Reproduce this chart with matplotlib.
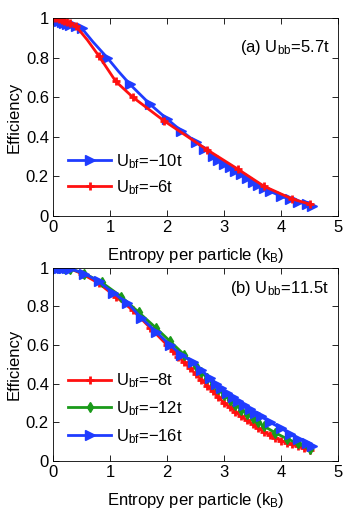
import numpy as np
import matplotlib
matplotlib.use("Agg")
import matplotlib.pyplot as plt

plt.rcParams['font.family'] = ['Liberation Sans', 'DejaVu Sans']
plt.rcParams['mathtext.fontset'] = 'custom'
plt.rcParams['mathtext.rm'] = 'Liberation Sans'
plt.rcParams['mathtext.it'] = 'Liberation Sans'

# panel (a), U_bb = 5.7t
a_blue_x = [0.05, 0.1, 0.15, 0.2, 0.25, 0.3, 0.4, 0.5, 0.7, 0.95, 1.15, 1.35, 1.7, 2.0, 2.25, 2.5, 2.65,
            2.8, 2.9, 3.0, 3.1, 3.2, 3.3, 3.4, 3.5, 3.6, 3.7, 3.8, 4.0, 4.15, 4.3, 4.45, 4.55]
a_blue_y = [0.99, 0.985, 0.98, 0.975, 0.97, 0.965, 0.96, 0.95, 0.88, 0.80, 0.73, 0.665, 0.565, 0.49, 0.43,
            0.375, 0.34, 0.305, 0.285, 0.265, 0.245, 0.225, 0.21, 0.19, 0.17, 0.155, 0.14,
            0.125, 0.10, 0.085, 0.07, 0.06, 0.05]
a_blue_marks = [0, 1, 2, 3, 4, 5, 6, 7, 9, 11, 12, 13, 14, 15, 16, 17, 18, 19, 20, 21, 22,
                23, 24, 25, 26, 27, 28, 29, 30, 31, 32]
a_red_x = [0.0, 0.05, 0.1, 0.15, 0.2, 0.25, 0.3, 0.4, 0.6, 0.8, 1.1, 1.4, 1.95, 2.7, 3.25, 3.7, 4.2, 4.5]
a_red_y = [1.0, 1.0, 0.995, 0.99, 0.985, 0.98, 0.975, 0.96, 0.89, 0.81, 0.68, 0.60, 0.48, 0.335,
           0.235, 0.15, 0.085, 0.06]
a_red_marks = [0, 1, 2, 3, 4, 5, 6, 7, 9, 10, 11, 12, 13, 14, 15, 16, 17]

# panel (b), U_bb = 11.5t
b_red_x = [0.0, 0.1, 0.2, 0.3, 0.5, 0.8, 1.1, 1.4, 1.7, 2.0, 2.1, 2.2, 2.3, 2.4, 2.5, 2.6,
           2.7, 2.8, 2.9, 3.0, 3.1, 3.2, 3.3, 3.4, 3.5, 3.6, 3.7, 3.8, 3.9, 4.0, 4.1, 4.2,
           4.3, 4.4, 4.5]
b_red_y = [1.0, 1.0, 1.0, 0.995, 0.97, 0.92, 0.85, 0.78, 0.69, 0.60, 0.57, 0.54, 0.51, 0.48,
           0.45, 0.42, 0.39, 0.36, 0.33, 0.30, 0.28, 0.255, 0.23, 0.21, 0.19, 0.17, 0.15,
           0.135, 0.12, 0.105, 0.095, 0.085, 0.075, 0.065, 0.055]
b_green_x = [0.0, 0.1, 0.2, 0.3, 0.55, 0.85, 1.2, 1.5, 1.8, 2.05, 2.3, 2.5, 2.6, 2.7, 2.8,
             2.9, 3.0, 3.1, 3.2, 3.3, 3.4, 3.5, 3.6, 3.7, 3.9, 4.1, 4.3, 4.5]
b_green_y = [1.0, 1.0, 1.0, 0.995, 0.97, 0.925, 0.85, 0.77, 0.69, 0.62, 0.55, 0.49, 0.46,
             0.43, 0.40, 0.37, 0.34, 0.315, 0.29, 0.265, 0.245, 0.22, 0.20, 0.18, 0.145,
             0.115, 0.09, 0.06]
b_blue_x = [0.0, 0.05, 0.1, 0.15, 0.2, 0.25, 0.3, 0.55, 0.8, 1.05, 1.3, 1.55, 1.8, 2.05,
            2.25, 2.45, 2.6, 2.75, 2.85, 2.95, 3.05, 3.15, 3.25, 3.35, 3.45, 3.55, 3.65,
            3.8, 4.0, 4.15, 4.3, 4.45, 4.55]
b_blue_y = [1.0, 1.0, 1.0, 1.0, 1.0, 1.0, 0.995, 0.97, 0.93, 0.87, 0.82, 0.74, 0.67, 0.60,
            0.55, 0.51, 0.47, 0.43, 0.40, 0.375, 0.35, 0.33, 0.31, 0.29, 0.27, 0.25, 0.23,
            0.20, 0.17, 0.14, 0.115, 0.095, 0.075]

blue = '#1f3cff'
red = '#ff1010'
green = '#1a9a1a'
fs = 12

fig = plt.figure(figsize=(3.54, 5.19), dpi=100)
ax1 = fig.add_axes([0.150, 0.584, 0.805, 0.381])
ax2 = fig.add_axes([0.150, 0.112, 0.805, 0.372])

ax1.plot(a_blue_x, a_blue_y, color=blue, lw=2, marker='>', ms=7, markevery=a_blue_marks,
         label=r'U$_{\rm bf}$=−10t')
ax1.plot(a_red_x, a_red_y, color=red, lw=2, marker='+', ms=6, mew=2, markevery=a_red_marks,
         label=r'U$_{\rm bf}$=−6t')
ax1.text(0.97, 0.85, r'(a) U$_{\rm bb}$=5.7t', transform=ax1.transAxes, ha='right', va='center', fontsize=fs)

ax2.plot(b_red_x, b_red_y, color=red, lw=2, marker='+', ms=6, mew=2, label=r'U$_{\rm bf}$=−8t')
ax2.plot(b_green_x, b_green_y, color=green, lw=2, marker='d', ms=5, label=r'U$_{\rm bf}$=−12t')
ax2.plot(b_blue_x, b_blue_y, color=blue, lw=2, marker='>', ms=7, label=r'U$_{\rm bf}$=−16t')
ax2.text(0.97, 0.895, r'(b) U$_{\rm bb}$=11.5t', transform=ax2.transAxes, ha='right', va='center', fontsize=fs)

for ax in (ax1, ax2):
    ax.set_xlim(0, 5)
    ax.set_ylim(0, 1)
    ax.set_xticks([0, 1, 2, 3, 4, 5])
    ax.set_yticks([0, 0.2, 0.4, 0.6, 0.8, 1])
    ax.set_yticklabels(['0', '0.2', '0.4', '0.6', '0.8', '1'])
    ax.tick_params(direction='in', top=True, right=True, labelsize=fs, length=4, width=0.6, pad=3)
    for s in ax.spines.values():
        s.set_linewidth(0.6)
    ax.set_xlabel(r'Entropy per particle (k$_{\rm B}$)', fontsize=fs, labelpad=8)
    ax.set_ylabel('Efficiency', fontsize=fs, labelpad=3)

ax1.legend(loc='lower left', bbox_to_anchor=(0.0, 0.02), frameon=False, fontsize=fs,
           handlelength=2.6, handletextpad=0.3, labelspacing=0.45)
ax2.legend(loc='lower left', bbox_to_anchor=(0.0, 0.0), frameon=False, fontsize=fs,
           handlelength=2.6, handletextpad=0.3, labelspacing=0.55)

fig.savefig('out.png', dpi=100)
